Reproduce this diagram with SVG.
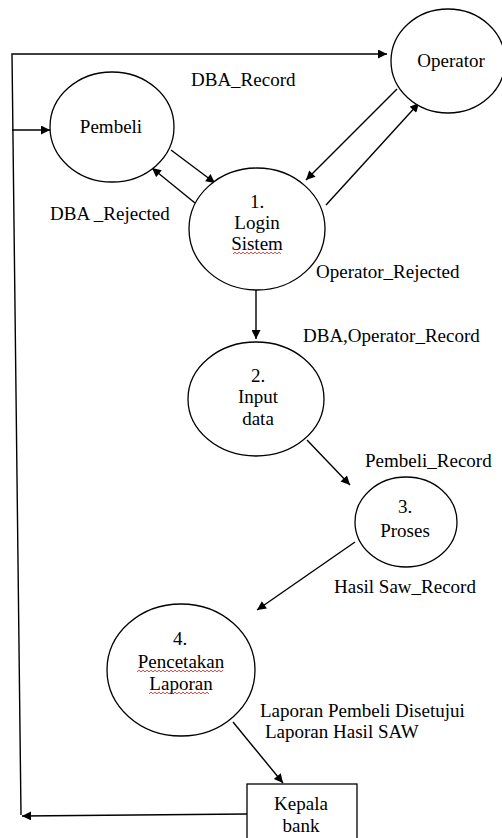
<svg xmlns="http://www.w3.org/2000/svg" width="502" height="838" viewBox="0 0 502 838" font-family="'Liberation Serif', 'Times New Roman', serif">
<defs>
<marker id="ah" viewBox="0 0 10 10" refX="10" refY="5" markerWidth="10" markerHeight="9" markerUnits="userSpaceOnUse" orient="auto">
<path d="M0,0 L10,5 L0,10 z" fill="#000"/>
</marker>
<style>
.n{fill:#fff;stroke:#000;stroke-width:1.3}
.c{fill:none;stroke:#000;stroke-width:1.4}
.a{marker-end:url(#ah)}
text{font-family:'Liberation Serif','Times New Roman',serif;font-size:19px;fill:#000}
.m{text-anchor:middle}
.sq{fill:none;stroke:#e02020;stroke-width:0.8}
</style>
</defs>
<rect width="502" height="838" fill="#fff"/>
<g id="connectors">
<polyline class="c a" points="21,815 12,54 387,54"/>
<line class="c a" x1="12" y1="130" x2="50" y2="130"/>
<line class="c a" x1="171" y1="150" x2="215" y2="183"/>
<line class="c a" x1="195" y1="203" x2="152" y2="168"/>
<line class="c a" x1="397" y1="89" x2="306" y2="180"/>
<line class="c a" x1="326" y1="205" x2="419" y2="103"/>
<line class="c a" x1="256" y1="290" x2="256" y2="339"/>
<line class="c a" x1="307" y1="440" x2="350" y2="485"/>
<line class="c a" x1="355" y1="542" x2="257" y2="610"/>
<line class="c a" x1="233" y1="722" x2="283" y2="783"/>
<line class="c a" x1="247" y1="814" x2="22" y2="816"/>
<text x="191" y="86">DBA_Record</text>
<text x="50" y="220">DBA _Rejected</text>
<text x="316" y="278">Operator_Rejected</text>
<text x="303" y="342">DBA,Operator_Record</text>
<text x="365" y="467">Pembeli_Record</text>
<text x="334" y="593">Hasil Saw_Record</text>
<text x="260" y="717">Laporan Pembeli Disetujui</text>
<text x="265" y="738">Laporan Hasil SAW</text>
</g>
<g id="operator">
<ellipse class="n" cx="448" cy="61" rx="57" ry="52"/>
<text class="m" x="451" y="67">Operator</text>
</g>
<g id="pembeli">
<ellipse class="n" cx="112" cy="127" rx="62" ry="55"/>
<text class="m" x="111" y="133">Pembeli</text>
</g>
<g id="p1">
<ellipse class="n" cx="257" cy="229" rx="68" ry="61"/>
<text class="m" x="257" y="208">1.</text>
<text class="m" x="257" y="229">Login</text>
<text class="m" x="257" y="250">Sistem</text>
<path class="sq" d="M233,254 l2,-2 l2,2 l2,-2 l2,2 l2,-2 l2,2 l2,-2 l2,2 l2,-2 l2,2 l2,-2 l2,2 l2,-2 l2,2 l2,-2 l2,2 l2,-2 l2,2 l2,-2 l2,2 l2,-2 l2,2 l2,-2 l2,2"/>
</g>
<g id="p2">
<ellipse class="n" cx="256" cy="399" rx="68" ry="57"/>
<text class="m" x="258" y="382">2.</text>
<text class="m" x="258" y="403">Input</text>
<text class="m" x="258" y="425">data</text>
</g>
<g id="p3">
<ellipse class="n" cx="406" cy="522" rx="51" ry="45"/>
<text class="m" x="405" y="513">3.</text>
<text class="m" x="405" y="537">Proses</text>
</g>
<g id="p4">
<ellipse class="n" cx="181" cy="670" rx="74" ry="66"/>
<text class="m" x="180" y="645">4.</text>
<text class="m" x="181" y="668">Pencetakan</text>
<text class="m" x="181" y="690">Laporan</text>
<path class="sq" d="M137,672 l2,-2 l2,2 l2,-2 l2,2 l2,-2 l2,2 l2,-2 l2,2 l2,-2 l2,2 l2,-2 l2,2 l2,-2 l2,2 l2,-2 l2,2 l2,-2 l2,2 l2,-2 l2,2 l2,-2 l2,2 l2,-2 l2,2 l2,-2 l2,2 l2,-2 l2,2 l2,-2 l2,2 l2,-2 l2,2 l2,-2 l2,2 l2,-2 l2,2 l2,-2 l2,2 l2,-2 l2,2 l2,-2 l2,2 l2,-2"/>
<path class="sq" d="M149,694 l2,-2 l2,2 l2,-2 l2,2 l2,-2 l2,2 l2,-2 l2,2 l2,-2 l2,2 l2,-2 l2,2 l2,-2 l2,2 l2,-2 l2,2 l2,-2 l2,2 l2,-2 l2,2 l2,-2 l2,2 l2,-2 l2,2 l2,-2 l2,2 l2,-2 l2,2 l2,-2 l2,2"/>
</g>
<g id="kepala-bank">
<rect class="n" x="247" y="784" width="110" height="60"/>
<text class="m" x="301" y="810">Kepala</text>
<text class="m" x="301" y="832">bank</text>
</g>
</svg>
